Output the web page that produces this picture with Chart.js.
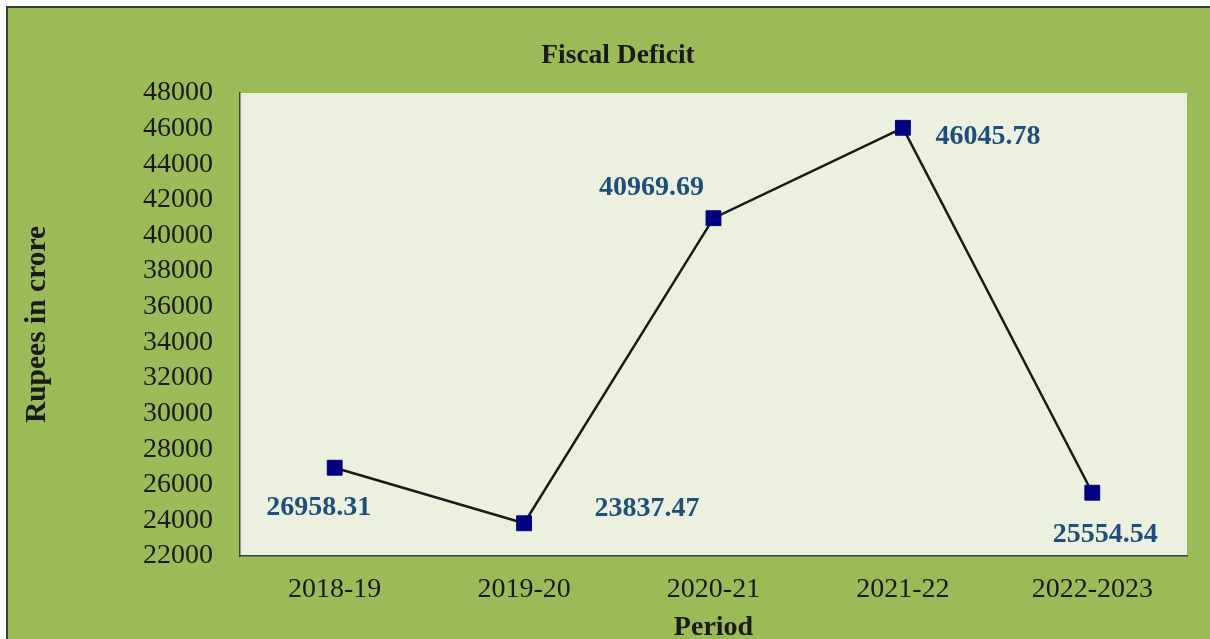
<!DOCTYPE html>
<html>
<head>
<meta charset="utf-8">
<script src="https://cdn.jsdelivr.net/npm/chart.js@4.4.0/dist/chart.umd.min.js"></script>
<style>
  html, body { margin: 0; padding: 0; background: #fff; overflow: hidden; }
  #frame {
    position: absolute; left: 6px; top: 6px; width: 1230px; height: 660px;
    background: #9BBB59; border-left: 2px solid #3a3a3a; border-top: 2px solid #3a3a3a;
  }
  #wrap { position: absolute; left: 0; top: 0; width: 1210px; height: 645px; }
</style>
</head>
<body>
<div id="frame"></div>
<div id="wrap"><canvas id="chart"></canvas></div>
<script>
// ---- data ----
const periods = ['2018-19', '2019-20', '2020-21', '2021-22', '2022-2023'];
const fiscalDeficit = [26958.31, 23837.47, 40969.69, 46045.78, 25554.54];
const yTicks = [22000, 24000, 26000, 28000, 30000, 32000, 34000, 36000, 38000, 40000, 42000, 44000, 46000, 48000];

// where each value label sits relative to its point (dx, dy)
const labelOffsets = [[-16, 40], [123, -15], [-62, -30], [85, 9], [13, 42]];

const serif = '"Liberation Serif", "Times New Roman", serif';

// light plot area fill
const plotBackground = {
  id: 'plotBackground',
  beforeDraw(chart) {
    const { ctx, chartArea: a } = chart;
    ctx.save();
    ctx.fillStyle = '#EBF1DE';
    ctx.fillRect(a.left, a.top, a.right - a.left, a.bottom - a.top);
    ctx.restore();
  }
};

// value labels next to the markers
const valueLabels = {
  id: 'valueLabels',
  afterDatasetsDraw(chart) {
    const ctx = chart.ctx;
    const meta = chart.getDatasetMeta(0);
    ctx.save();
    ctx.font = 'bold 28px ' + serif;
    ctx.fillStyle = '#1F4E7C';
    ctx.textAlign = 'center';
    ctx.textBaseline = 'middle';
    meta.data.forEach((pt, i) => {
      const off = labelOffsets[i];
      ctx.fillText(fiscalDeficit[i].toFixed(2), pt.x + off[0], pt.y + off[1]);
    });
    ctx.restore();
  }
};

// chart title, centred on the green panel
const panelTitle = {
  id: 'panelTitle',
  afterDraw(chart) {
    const ctx = chart.ctx;
    ctx.save();
    ctx.font = 'bold 27.5px ' + serif;
    ctx.fillStyle = '#1a1a1a';
    ctx.textAlign = 'center';
    ctx.textBaseline = 'middle';
    ctx.fillText('Fiscal Deficit', 618, 56);
    ctx.restore();
  }
};

new Chart(document.getElementById('chart'), {
  type: 'line',
  data: {
    labels: periods,
    datasets: [{
      data: fiscalDeficit,
      borderColor: '#1a1a1a',
      borderWidth: 2.5,
      pointStyle: 'rect',
      pointRadius: 10.5,
      pointBackgroundColor: '#000080',
      pointBorderColor: '#000080',
      pointBorderWidth: 1,
      tension: 0
    }]
  },
  options: {
    responsive: true,
    maintainAspectRatio: false,
    animation: false,
    layout: { padding: { top: 93, right: 23, left: 8, bottom: 0 } },
    plugins: {
      legend: { display: false },
      title: { display: false },
      tooltip: { enabled: false }
    },
    scales: {
      x: {
        offset: true,
        afterFit(axis) { axis.height = 89; },
        grid: { display: false, drawTicks: false },
        border: { display: true, color: '#404040', width: 1.5 },
        ticks: { font: { family: serif, size: 28 }, color: '#1a1a1a', padding: 17, autoSkip: false, maxRotation: 0 },
        title: {
          display: true, text: 'Period',
          font: { family: serif, size: 28, weight: 'bold' }, color: '#1a1a1a',
          padding: { top: 4, bottom: 0 }
        }
      },
      y: {
        min: 22000,
        max: 48000,
        afterBuildTicks(axis) { axis.ticks = yTicks.map(v => ({ value: v })); },
        afterFit(axis) { axis.width = 232; },
        grid: { display: false, drawTicks: false },
        border: { display: true, color: '#404040', width: 1.5 },
        ticks: {
          font: { family: serif, size: 28 }, color: '#1a1a1a', padding: 27,
          autoSkip: false,
          callback: (v) => String(v)
        },
        title: {
          display: true, text: 'Rupees in crore',
          font: { family: serif, size: 29.5, weight: 'bold' }, color: '#1a1a1a',
          padding: { top: 12, bottom: 0 }
        }
      }
    }
  },
  plugins: [plotBackground, valueLabels, panelTitle]
});
</script>
</body>
</html>
